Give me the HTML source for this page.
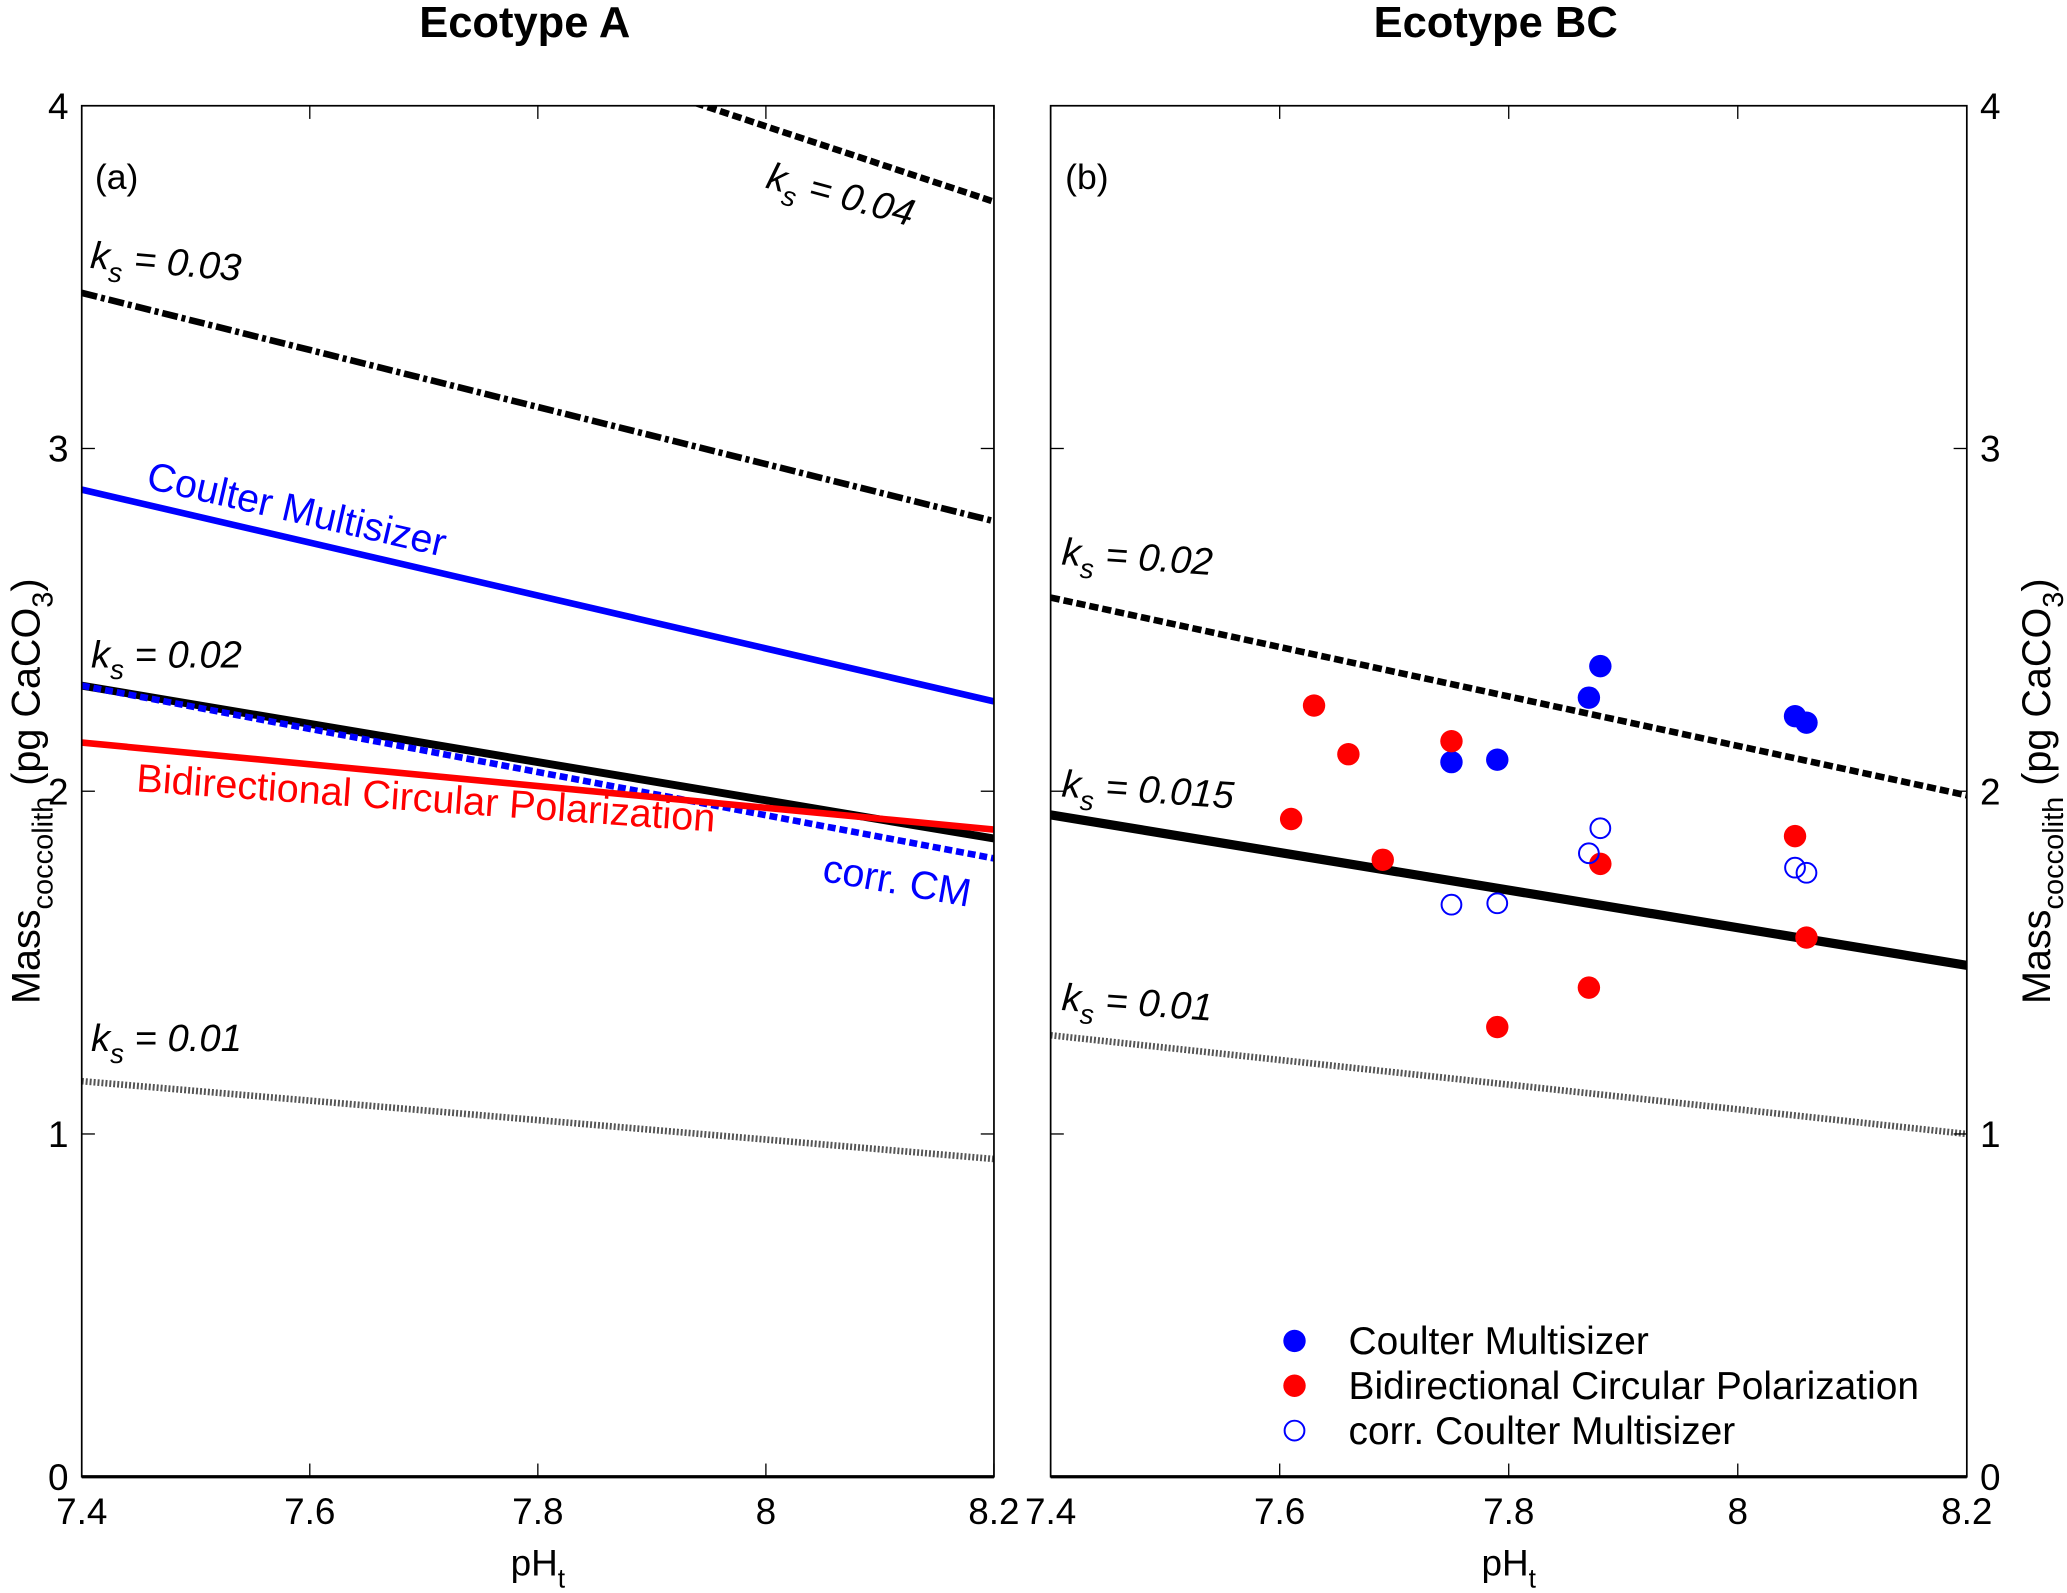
<!DOCTYPE html>
<html><head><meta charset="utf-8"><style>
html,body{margin:0;padding:0;background:#fff}
svg{display:block}
text{font-family:"Liberation Sans",Arial,sans-serif}
</style></head><body>
<svg id="chart" width="2067" height="1593" viewBox="0 0 1568 1208" xmlns="http://www.w3.org/2000/svg">
<g id="root"></g>
</svg>
<script>
// ---- data ----
const xTicks = [7.4, 7.6, 7.8, 8, 8.2];
const yTicks = [0, 1, 2, 3, 4];
const lineNamesA = ['ks-004', 'ks-003', 'coulter-multisizer', 'ks-002', 'corr-cm', 'bcp', 'ks-001'];
const lineStartA = [4.60, 3.454, 2.88, 2.308, 2.308, 2.142, 1.154];
const lineEndA = [3.72, 2.788, 2.262, 1.862, 1.804, 1.888, 0.927];
const lineNamesB = ['ks-002', 'ks-0015', 'ks-001'];
const lineStartB = [2.565, 1.931, 1.288];
const lineEndB = [1.988, 1.492, 1.0];
const cmPH = [7.75, 7.79, 7.87, 7.88, 8.05, 8.06];
const cmMass = [2.085, 2.092, 2.273, 2.365, 2.219, 2.2];
const bcpPH = [7.63, 7.66, 7.75, 7.61, 7.69, 7.88, 8.05, 8.06, 7.87, 7.79];
const bcpMass = [2.25, 2.108, 2.146, 1.919, 1.8, 1.788, 1.869, 1.573, 1.427, 1.312];
const corrPH = [7.75, 7.79, 7.87, 7.88, 8.05, 8.06];
const corrMass = [1.669, 1.673, 1.819, 1.892, 1.777, 1.762];

// ---- drawing ----
const NS = 'http://www.w3.org/2000/svg';
const root = document.getElementById('root');
function mk(tag, attrs, parent, txt) {
  const e = document.createElementNS(NS, tag);
  for (const k in attrs) e.setAttribute(k, attrs[k]);
  if (txt !== undefined) e.textContent = txt;
  (parent || root).appendChild(e);
  return e;
}
const Y0 = 1120, Y1 = 80;
function yS(v) { return Y0 - (v / 4) * (Y0 - Y1); }
function xSf(L, R) { return v => L + (v - 7.4) / 0.8 * (R - L); }
const panels = [
  {L: 62, R: 754, id: 'a'},
  {L: 797, R: 1492, id: 'b'}
];
const styleA = [
  {c: '#000', w: 5, d: '7 3'},
  {c: '#000', w: 5, d: '12 3 3 3'},
  {c: '#0000ff', w: 5, d: ''},
  {c: '#000', w: 6, d: ''},
  {c: '#0000ff', w: 5, d: '6 3'},
  {c: '#ff0000', w: 5, d: ''},
  {c: '#555', w: 5, d: '1.5 1.5'}
];
const styleB = [
  {c: '#000', w: 5, d: '7 3'},
  {c: '#000', w: 7, d: ''},
  {c: '#555', w: 5, d: '1.5 1.5'}
];
const TF = 28;

panels.forEach((p, pi) => {
  const xS = xSf(p.L, p.R);
  const g = mk('g', {});
  
  
  const cp = mk('clipPath', {id: 'clip' + p.id}, g);
  mk('rect', {x: p.L, y: Y1, width: p.R - p.L, height: Y0 - Y1}, cp);
  const names = pi === 0 ? lineNamesA : lineNamesB;
  const s0 = pi === 0 ? lineStartA : lineStartB;
  const s1 = pi === 0 ? lineEndA : lineEndB;
  const st = pi === 0 ? styleA : styleB;
  names.forEach((n, i) => {
    const l = mk('line', {x1: xS(7.4), y1: yS(s0[i]), x2: xS(8.2), y2: yS(s1[i]), stroke: st[i].c, 'stroke-width': st[i].w, 'stroke-dasharray': st[i].d, 'clip-path': 'url(#clip' + p.id + ')'}, g);
    
    
  });
  const fr = mk('rect', {x: p.L, y: Y1, width: p.R - p.L, height: Y0 - Y1, fill: 'none', stroke: '#000', 'stroke-width': 1.3}, g);
  
  
  mk('line', {x1: p.L, y1: Y0, x2: p.R, y2: Y0, stroke: '#000', 'stroke-width': 2.5}, g);
  xTicks.forEach(t => {
    const x = xS(t);
    mk('line', {x1: x, y1: Y0, x2: x, y2: Y0 - 10, stroke: '#000', 'stroke-width': 1}, g);
    mk('line', {x1: x, y1: Y1, x2: x, y2: Y1 + 10, stroke: '#000', 'stroke-width': 1}, g);
    const tx = mk('text', {x: x, y: 1156, 'font-size': TF, 'text-anchor': 'middle'}, g, String(t));
    
    
  });
  yTicks.forEach(t => {
    const y = yS(t);
    mk('line', {x1: p.L, y1: y, x2: p.L + 10, y2: y, stroke: '#000', 'stroke-width': 1}, g);
    mk('line', {x1: p.R, y1: y, x2: p.R - 10, y2: y, stroke: '#000', 'stroke-width': 1}, g);
    const tx = pi === 0
      ? mk('text', {x: 52, y: y + 10, 'font-size': TF, 'text-anchor': 'end'}, g, String(t))
      : mk('text', {x: 1502, y: y + 10, 'font-size': TF, 'text-anchor': 'start'}, g, String(t));
    
    
  });
  const xt = mk('text', {x: (p.L + p.R) / 2, y: 1195, 'font-size': 28, 'text-anchor': 'middle'}, g);
  
  
  mk('tspan', {}, xt, 'pH');
  mk('tspan', {'font-size': 20, dy: 9}, xt, 't');
  if (pi === 1) {
    function dots(px, py, fill, stroke, name) {
      px.forEach((v, i) => {
        const c = mk('circle', {cx: xS(v), cy: yS(py[i]), r: fill === 'none' ? 7.5 : 8.5, fill: fill, stroke: stroke, 'stroke-width': 1.5}, g);
        
        
      });
    }
    dots(cmPH, cmMass, '#0000ff', 'none', 'point-coulter-multisizer');
    dots(bcpPH, bcpMass, '#ff0000', 'none', 'point-bcp');
    dots(corrPH, corrMass, 'none', '#0000ff', 'point-corr-cm');
  }
});

function ks(x, y, val, rot, name) {
  const t = mk('text', {x: x, y: y, 'font-size': 29, 'font-style': 'italic', transform: rot ? 'rotate(' + rot + ' ' + x + ' ' + y + ')' : ''});
  
  
  mk('tspan', {}, t, 'k');
  mk('tspan', {'font-size': 21, dy: 9}, t, 's');
  mk('tspan', {dy: -9}, t, ' = ' + val);
}
function lbl(x, y, s, fill, rot, name, size, bold) {
  const t = mk('text', {x: x, y: y, 'font-size': size || 29, fill: fill, transform: rot ? 'rotate(' + rot + ' ' + x + ' ' + y + ')' : ''}, root, s);
  if (bold) t.setAttribute('font-weight', 'bold');
  
  
}
lbl(318, 28, 'Ecotype A', '#000', 0, 'title-a', 33, true);
lbl(1042, 28, 'Ecotype BC', '#000', 0, 'title-b', 33, true);
lbl(72, 143, '(a)', '#000', 0, 'panel-label-a', 27);
lbl(808, 143, '(b)', '#000', 0, 'panel-label-b', 27);
ks(580, 142, '0.04', 15, 'label-ks-004');
ks(68, 203, '0.03', 5, 'label-ks-003');
ks(69, 506, '0.02', 0, 'label-ks-002-a');
ks(69, 797, '0.01', 0, 'label-ks-001-a');
ks(805, 428, '0.02', 4, 'label-ks-002-b');
ks(805, 604, '0.015', 4, 'label-ks-0015');
ks(805, 766, '0.01', 4, 'label-ks-001-b');
lbl(110, 370, 'Coulter Multisizer', '#0000ff', 13, 'label-coulter-multisizer', 30);
lbl(103, 600, 'Bidirectional Circular Polarization', '#ff0000', 4, 'label-bcp', 30);
lbl(623, 668, 'corr. CM', '#0000ff', 10, 'label-corr-cm', 30);
function ytitle(x, y, name) {
  const t = mk('text', {x: x, y: y, 'font-size': 30, 'text-anchor': 'middle', transform: 'rotate(-90 ' + x + ' ' + y + ')'});
  
  
  mk('tspan', {}, t, 'Mass');
  mk('tspan', {'font-size': 22, dy: 10}, t, 'coccolith');
  mk('tspan', {dy: -10}, t, ' (pg CaCO');
  mk('tspan', {'font-size': 22, dy: 10}, t, '3');
  mk('tspan', {dy: -10}, t, ')');
}
ytitle(30, 600, 'y-axis-title-left');
ytitle(1555, 600, 'y-axis-title-right');
const lg = mk('g', {});


const legItems = [['#0000ff', 'none', 'Coulter Multisizer'], ['#ff0000', 'none', 'Bidirectional Circular Polarization'], ['none', '#0000ff', 'corr. Coulter Multisizer']];
legItems.forEach((it, i) => {
  const y = 1017 + i * 34;
  const c = mk('circle', {cx: 982, cy: y, r: it[0] === 'none' ? 7.5 : 8.5, fill: it[0], stroke: it[1], 'stroke-width': 1.5}, lg);
  
  
  const t = mk('text', {x: 1023, y: y + 10, 'font-size': 29.5}, lg, it[2]);
  
  
});
</script>
</body></html>
